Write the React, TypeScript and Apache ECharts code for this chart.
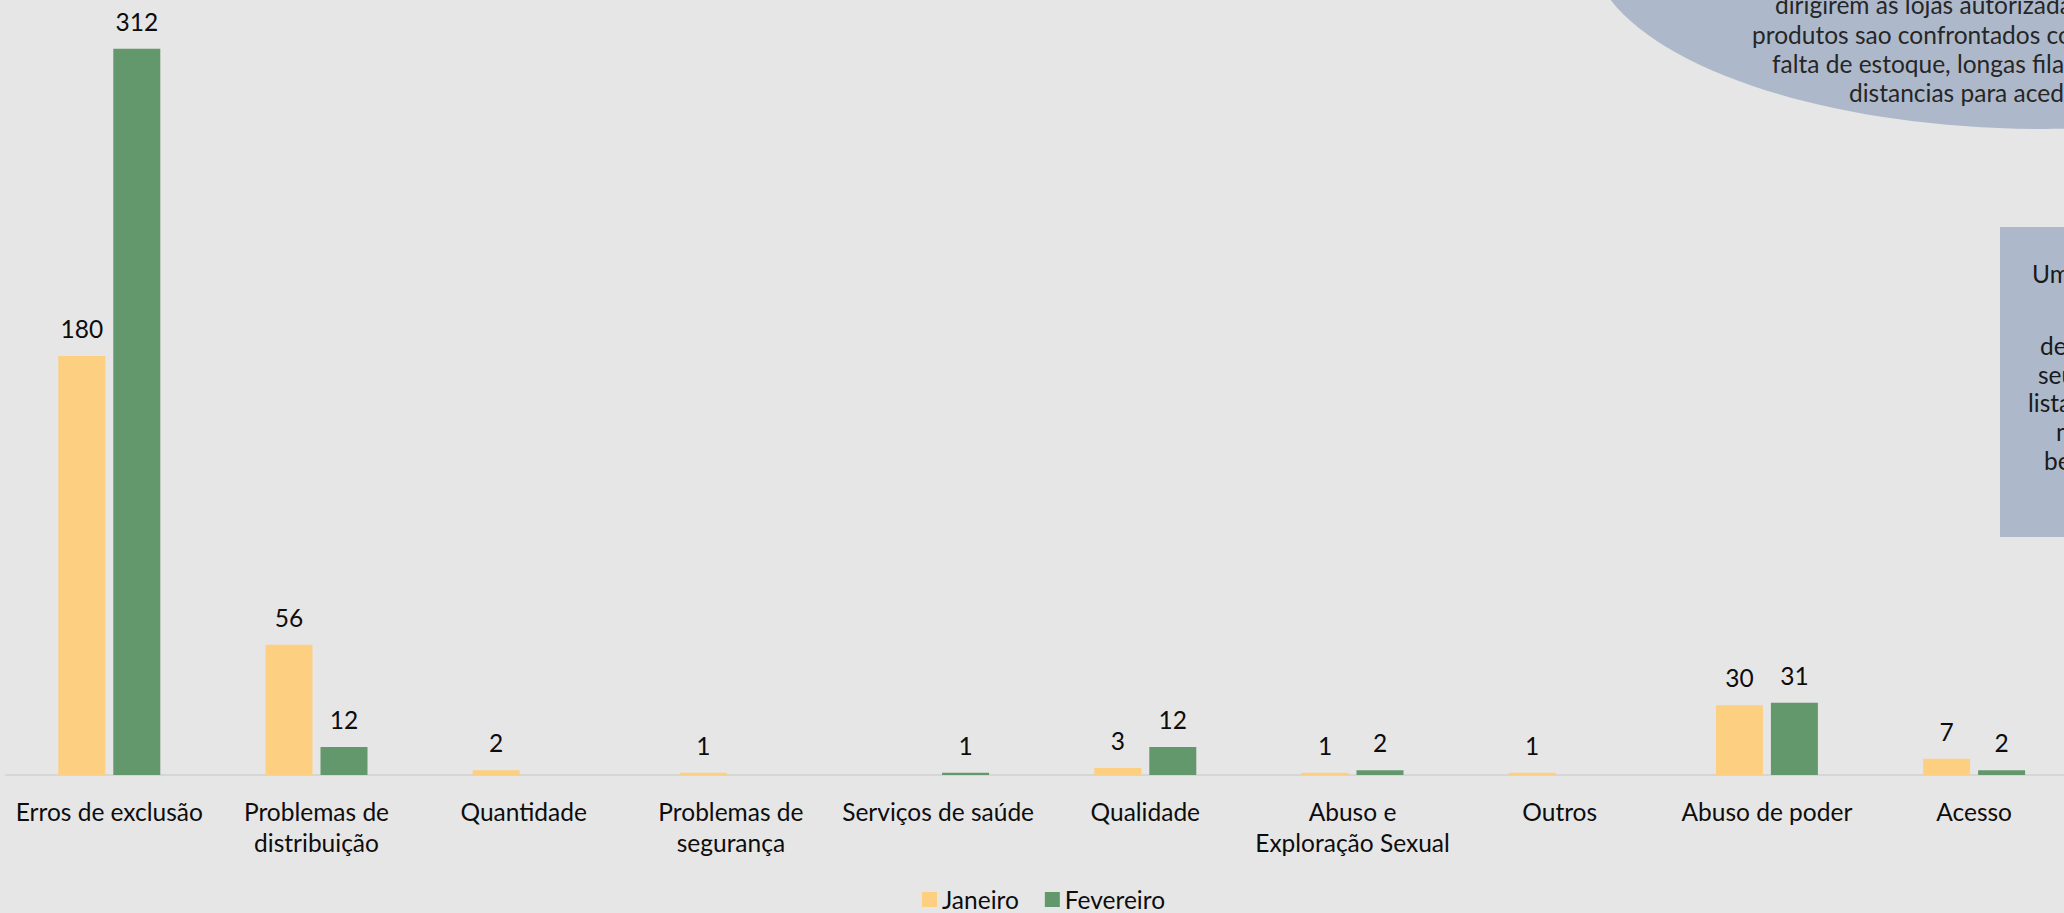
import React, { useEffect, useRef } from "react";
import * as echarts from "echarts";

// Complaint categories (line breaks follow the wrapped axis labels)
const categories = [
  "Erros de exclusão",
  "Problemas de\ndistribuição",
  "Quantidade",
  "Problemas de\nsegurança",
  "Serviços de saúde",
  "Qualidade",
  "Abuso e\nExploração Sexual",
  "Outros",
  "Abuso de poder",
  "Acesso",
];

// Cases per month; null where a month has no record
const janeiro = [180, 56, 2, 1, null, 3, 1, 1, 30, 7];
const fevereiro = [312, 12, null, null, 1, 12, 2, null, 31, 2];

const seriesNames = ["Janeiro", "Fevereiro"];

// Callout texts at the right edge
const ellipseLines = [
  "dirigirem as lojas autorizadas e os",
  "produtos sao confrontados com a",
  "falta de estoque, longas filas e",
  "distancias para acederem aos",
];
const boxLines = ["Uma parte", "de famílias", "seus nomes", "listas de", "não", "beneficiários"];

const FONT = "Lato, 'Noto Sans', sans-serif";
const YELLOW = "#fdcf80";
const GREEN = "#63976c";

export default function App() {
  const ref = useRef<HTMLDivElement>(null);

  useEffect(() => {
    if (!ref.current) return;
    const chart = echarts.init(ref.current, undefined, { renderer: "svg" });

    const ellipseX = [1775, 1752, 1772, 1849];
    const ellipseY = [4, 34, 63, 92];
    const boxX = [2032, 2040, 2038, 2028, 2056, 2044];
    const boxY = [273, 345, 374, 402, 431, 460];

    const graphics: any[] = [
      {
        type: "ellipse",
        shape: { cx: 2045, cy: -55, rx: 455, ry: 184 },
        style: { fill: "#adb9ca" },
        z: 10,
      },
      {
        type: "rect",
        shape: { x: 2000, y: 227, width: 120, height: 310 },
        style: { fill: "#adb9ca" },
        z: 10,
      },
      ...ellipseLines.map((t, i) => ({
        type: "text",
        x: ellipseX[i],
        y: ellipseY[i],
        z: 11,
        style: {
          text: t,
          fill: "#262626",
          fontSize: 24.5,
          fontFamily: FONT,
          align: "left",
          verticalAlign: "middle",
        },
      })),
      ...boxLines.map((t, i) => ({
        type: "text",
        x: boxX[i],
        y: boxY[i],
        z: 11,
        style: {
          text: t,
          fill: "#1a1a1a",
          fontSize: 24.5,
          fontFamily: FONT,
          align: "left",
          verticalAlign: "middle",
        },
      })),
    ];

    const labelStyle = {
      show: true,
      position: "top" as const,
      distance: 15,
      color: "#0d0d0d",
      fontSize: 24.5,
      fontFamily: FONT,
    };

    chart.setOption({
      animation: false,
      backgroundColor: "#e7e6e6",
      textStyle: { fontFamily: FONT },
      grid: { left: 5.7, right: 2.3, top: 0, bottom: 138, containLabel: false },
      legend: {
        data: seriesNames,
        icon: "rect",
        itemWidth: 15,
        itemHeight: 15,
        itemGap: 26,
        padding: 0,
        left: 922,
        top: 886,
        textStyle: { fontSize: 24.5, fontFamily: FONT, color: "#0d0d0d", lineHeight: 27 },
      },
      xAxis: {
        type: "category",
        data: categories,
        axisLine: { show: true, lineStyle: { color: "#d6d6d6", width: 2 } },
        axisTick: { show: false },
        axisLabel: {
          interval: 0,
          margin: 21,
          color: "#0d0d0d",
          fontSize: 24.5,
          fontFamily: FONT,
          lineHeight: 31,
        },
      },
      yAxis: {
        type: "value",
        min: 0,
        max: 333,
        show: false,
        splitLine: { show: false },
      },
      series: [
        {
          name: seriesNames[0],
          type: "bar",
          data: janeiro,
          barWidth: 47,
          barGap: "17%",
          itemStyle: { color: YELLOW },
          label: labelStyle,
        },
        {
          name: seriesNames[1],
          type: "bar",
          data: fevereiro,
          barWidth: 47,
          barGap: "17%",
          itemStyle: { color: GREEN },
          label: labelStyle,
        },
      ],
      graphic: graphics,
    });

    return () => chart.dispose();
  }, []);

  // The plot runs slightly past the right edge, so the chart canvas is wider than the frame
  return (
    <div style={{ position: "absolute", left: 0, top: 0, width: 2064, height: 913, overflow: "hidden" }}>
      <div ref={ref} style={{ width: 2080, height: 913 }} />
    </div>
  );
}
